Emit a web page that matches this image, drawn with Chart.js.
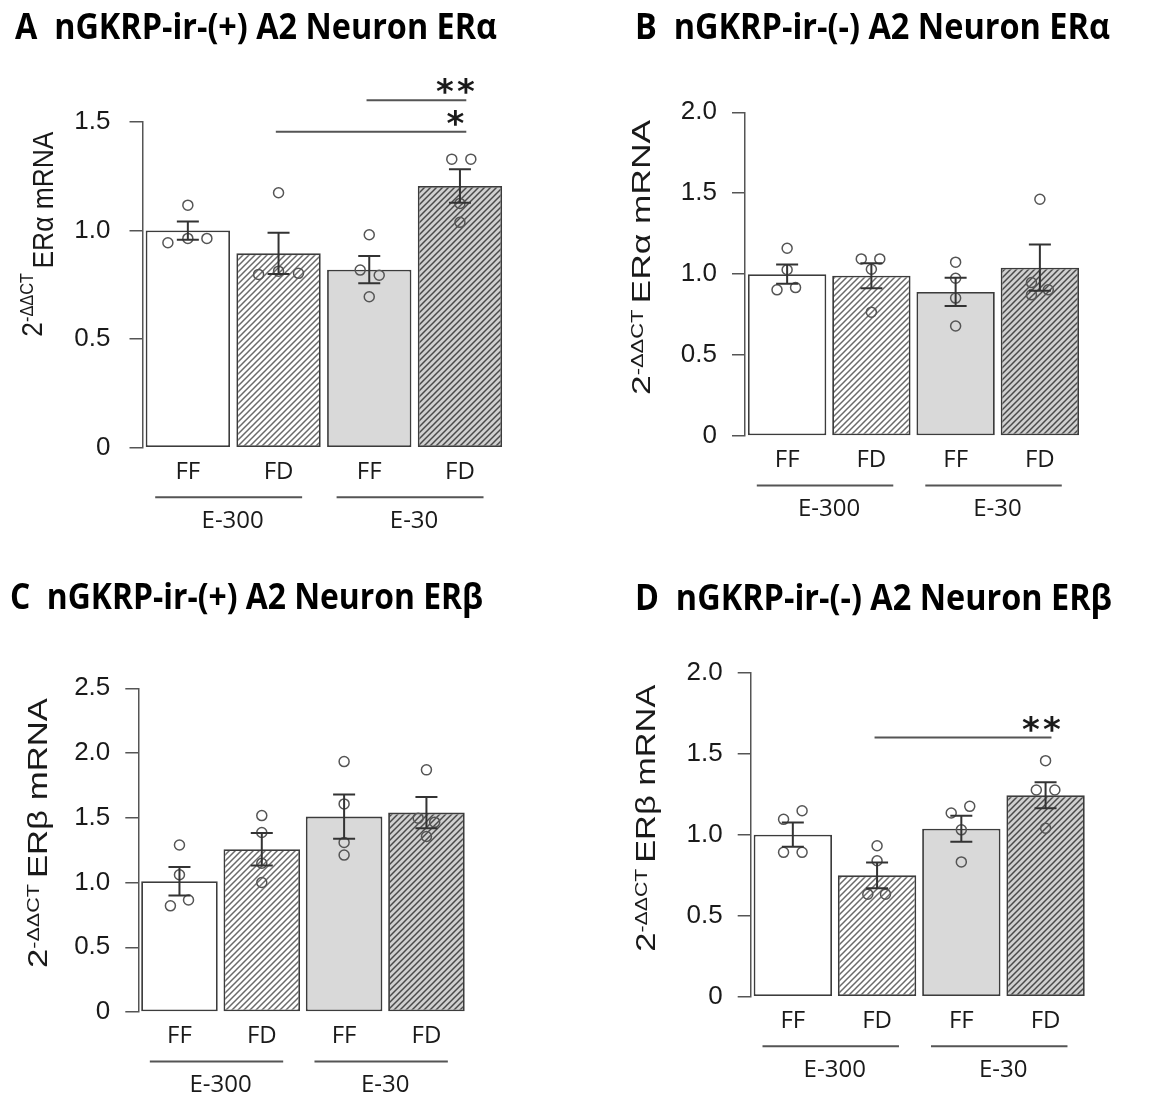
<!DOCTYPE html>
<html>
<head>
<meta charset="utf-8">
<script src="https://cdn.jsdelivr.net/npm/chart.js@4.4.0/dist/chart.umd.min.js"></script>
<style>
  html, body { margin: 0; padding: 0; background: #fff; }
  #wrap { position: relative; width: 1168px; height: 1104px; }
  #wrap canvas { position: absolute; }
</style>
</head>
<body>
<div id="wrap">
  <canvas id="chartA" width="584" height="552" style="left:0;top:0"></canvas>
  <canvas id="chartB" width="584" height="552" style="left:584px;top:0"></canvas>
  <canvas id="chartC" width="584" height="552" style="left:0;top:552px"></canvas>
  <canvas id="chartD" width="584" height="552" style="left:584px;top:552px"></canvas>
</div>
<script>
// shared labels
const categories = ['FF', 'FD', 'FF', 'FD'];
const groupNames = ['E-300', 'E-30'];
const groupSpans = [[0, 1], [2, 3]];
const yPrefix = '2';
const ySup = '-ΔΔCT';

// panel A
const titleA = 'A  nGKRP-ir-(+) A2 Neuron ERα';
const yLabelA = 'ERα mRNA';
const yTicksA = [0, 0.5, 1.0, 1.5];
const meansA = [1.00, 0.895, 0.82, 1.205];
const semA = [0.042, 0.095, 0.063, 0.077];
const pointsA = [[0.944, 1.117, 0.964, 0.964], [0.798, 1.174, 0.813, 0.803], [0.818, 0.981, 0.794, 0.695], [1.329, 1.329, 1.125, 1.038]];
const sigA = [{ from: 2, to: 3, y: 1.60, label: '**' }, { from: 1, to: 3, y: 1.455, label: '*' }];

// panel B
const titleB = 'B  nGKRP-ir-(-) A2 Neuron ERα';
const yLabelB = 'ERα mRNA';
const yTicksB = [0, 0.5, 1.0, 1.5, 2.0];
const meansB = [1.00, 0.99, 0.89, 1.04];
const semB = [0.06, 0.077, 0.087, 0.143];
const pointsB = [[1.16, 1.027, 0.903, 0.917], [1.094, 1.094, 1.03, 0.765], [1.074, 0.975, 0.852, 0.68], [1.463, 0.948, 0.903, 0.872]];
const sigB = [];

// panel C
const titleC = 'C  nGKRP-ir-(+) A2 Neuron ERβ';
const yLabelC = 'ERβ mRNA';
const yTicksC = [0, 0.5, 1.0, 1.5, 2.0, 2.5];
const meansC = [1.01, 1.257, 1.509, 1.54];
const semC = [0.11, 0.125, 0.17, 0.12];
const pointsC = [[1.29, 1.06, 0.82, 0.865], [1.517, 1.386, 1.149, 1.0], [1.934, 1.607, 1.31, 1.212], [1.87, 1.497, 1.466, 1.355]];
const sigC = [];

// panel D
const titleD = 'D  nGKRP-ir-(-) A2 Neuron ERβ';
const yLabelD = 'ERβ mRNA';
const yTicksD = [0, 0.5, 1.0, 1.5, 2.0];
const meansD = [1.00, 0.749, 1.037, 1.243];
const semD = [0.075, 0.08, 0.08, 0.08];
const pointsD = [[1.095, 1.148, 0.891, 0.891], [0.932, 0.839, 0.633, 0.633], [1.134, 1.175, 1.03, 0.832], [1.457, 1.276, 1.276, 1.04]];
const sigD = [{ from: 1, to: 3, y: 1.60, label: '**' }];

// horizontal spread of the dots (in category units), style only
const jitterA = [[-0.22, 0, 0, 0.21], [-0.22, 0, 0, 0.22], [-0.1, 0, 0.11, 0], [-0.09, 0.12, 0, 0]];
const jitterB = [[0, 0, -0.12, 0.1], [-0.12, 0.1, 0, 0], [0, 0, 0, 0], [0, -0.1, 0.1, -0.1]];
const jitterC = [[0, 0, -0.11, 0.11], [0, 0, 0, 0], [0, 0, 0, 0], [0, -0.1, 0.1, 0]];
const jitterD = [[-0.11, 0.11, -0.11, 0.11], [0, 0, -0.11, 0.1], [-0.12, 0.1, 0, 0], [0, -0.11, 0.11, 0]];

const W = 584, H = 552;
const AXIS = '#555';
const INK = '#1a1a1a';

function hatch(bg, line) {
  const c = document.createElement('canvas');
  c.width = 6; c.height = 6;
  const g = c.getContext('2d');
  g.fillStyle = bg;
  g.fillRect(0, 0, 6, 6);
  g.strokeStyle = line;
  g.lineWidth = 1.5;
  g.beginPath();
  g.moveTo(0, 6); g.lineTo(6, 0);
  g.moveTo(-1, 1); g.lineTo(1, -1);
  g.moveTo(5, 7); g.lineTo(7, 5);
  g.stroke();
  return g.createPattern(c, 'repeat');
}

const barFills = ['#ffffff', hatch('#ffffff', '#6a6a6a'), '#d9d9d9', hatch('#d0d0d0', '#4a4a4a')];

// text squeezed to a given width
function fitText(ctx, text, x, y, width) {
  const w = ctx.measureText(text).width;
  ctx.save();
  ctx.translate(x, y);
  ctx.scale(width / w, 1);
  ctx.fillText(text, 0, 0);
  ctx.restore();
}

const decor = {
  id: 'decor',
  afterDraw(chart, args, o) {
    const ctx = chart.ctx;
    const xs = chart.scales.x, ys = chart.scales.y;
    const area = chart.chartArea;

    // error bars
    ctx.save();
    ctx.strokeStyle = '#333';
    ctx.lineWidth = 2;
    o.means.forEach((m, i) => {
      const x = xs.getPixelForValue(i);
      const y1 = ys.getPixelForValue(m + o.sem[i]);
      const y2 = ys.getPixelForValue(m - o.sem[i]);
      ctx.beginPath();
      ctx.moveTo(x, y1); ctx.lineTo(x, y2);
      ctx.moveTo(x - 11, y1); ctx.lineTo(x + 11, y1);
      ctx.moveTo(x - 11, y2); ctx.lineTo(x + 11, y2);
      ctx.stroke();
    });
    ctx.restore();

    // group lines and names
    ctx.save();
    ctx.strokeStyle = AXIS;
    ctx.lineWidth = 2;
    ctx.fillStyle = INK;
    ctx.font = '24px "Open Sans"';
    ctx.textAlign = 'center';
    ctx.textBaseline = 'middle';
    groupSpans.forEach((g, k) => {
      const x1 = xs.getPixelForValue(g[0] - 0.36);
      const x2 = xs.getPixelForValue(g[1] + 0.26);
      const y = area.bottom + 49.6;
      ctx.beginPath();
      ctx.moveTo(x1, y); ctx.lineTo(x2, y);
      ctx.stroke();
      ctx.fillText(groupNames[k], (x1 + x2) / 2 + 4, y + 24);
    });
    ctx.restore();

    // significance lines
    ctx.save();
    ctx.strokeStyle = AXIS;
    ctx.lineWidth = 2;
    ctx.fillStyle = INK;
    ctx.font = 'bold 34px "DejaVu Sans"';
    ctx.textAlign = 'center';
    const mt = ctx.measureText('*');
    const lift = (mt.actualBoundingBoxAscent - mt.actualBoundingBoxDescent) / 2;
    o.sig.forEach(s => {
      const x1 = xs.getPixelForValue(s.from - 0.03);
      const x2 = xs.getPixelForValue(s.to + 0.07);
      const y = ys.getPixelForValue(s.y);
      ctx.beginPath();
      ctx.moveTo(x1, y); ctx.lineTo(x2, y);
      ctx.stroke();
      const cx = xs.getPixelForValue(s.to - 0.05);
      const n = s.label.length;
      for (let j = 0; j < n; j++) {
        ctx.fillText('*', cx + (j - (n - 1) / 2) * 21, y - 14 + lift);
      }
    });
    ctx.restore();

    // panel title
    ctx.save();
    ctx.fillStyle = '#000';
    ctx.font = 'bold 36px "Open Sans"';
    ctx.textBaseline = 'alphabetic';
    fitText(ctx, o.title, o.titlePos.x, o.titlePos.base, o.titlePos.w);
    ctx.restore();

    // y axis title with superscript
    const t = o.yTitle;
    const big = t.cap / 0.716, small = big * 0.62;
    ctx.save();
    ctx.fillStyle = INK;
    ctx.textBaseline = 'alphabetic';
    ctx.font = big + 'px "Liberation Sans"';
    const w2 = ctx.measureText(yPrefix).width;
    const wm = ctx.measureText(o.yLabel).width;
    ctx.font = small + 'px "Liberation Sans"';
    const ws = ctx.measureText(ySup + ' ').width;
    const k = t.len / (w2 + ws + wm);
    ctx.translate(t.x, t.y);
    ctx.rotate(-Math.PI / 2);
    ctx.scale(k, 1);
    ctx.font = big + 'px "Liberation Sans"';
    ctx.fillText(yPrefix, 0, -t.shift);
    ctx.font = small + 'px "Liberation Sans"';
    ctx.fillText(ySup, w2, -t.shift - (t.cap - small * 0.716));
    ctx.font = big + 'px "Liberation Sans"';
    ctx.fillText(o.yLabel, w2 + ws, 0);
    ctx.restore();
  }
};

function makePanel(id, P) {
  const last = P.ticks[P.ticks.length - 1];
  new Chart(document.getElementById(id), {
    type: 'bar',
    data: {
      datasets: [{
        type: 'scatter',
        order: 0,
        data: P.points.flatMap((arr, i) => arr.map((v, j) => ({ x: i + P.jitter[i][j], y: v }))),
        pointRadius: 5,
        pointBorderWidth: 1.5,
        pointBorderColor: '#555',
        pointBackgroundColor: 'rgba(0,0,0,0)',
        showLine: false
      }, {
        type: 'bar',
        order: 1,
        data: P.means.map((v, i) => ({ x: i, y: v })),
        backgroundColor: barFills,
        borderColor: '#3c3c3c',
        borderWidth: 1.8,
        borderSkipped: false,
        barPercentage: 0.93,
        categoryPercentage: 1.0
      }]
    },
    options: {
      responsive: false,
      animation: false,
      events: [],
      layout: { padding: { left: 0, top: P.top, right: W - P.right, bottom: 0 } },
      plugins: {
        legend: { display: false },
        tooltip: { enabled: false },
        decor: {
          means: P.means, sem: P.sem, sig: P.sig,
          title: P.title, titlePos: P.titlePos,
          yLabel: P.yLabel, yTitle: P.yTitle
        }
      },
      scales: {
        x: {
          type: 'linear',
          min: -0.5, max: 3.5,
          offset: false,
          afterBuildTicks: s => { s.ticks = categories.map((c, i) => ({ value: i })); },
          afterFit: s => { s.height = H - P.bottom; },
          grid: { display: false, drawTicks: false, offset: false },
          border: { display: false },
          ticks: {
            padding: 10, color: INK, autoSkip: false, maxRotation: 0,
            font: { family: 'Open Sans', size: 24 },
            callback: v => categories[v]
          }
        },
        y: {
          min: 0, max: last,
          afterBuildTicks: s => { s.ticks = P.ticks.map(v => ({ value: v })); },
          afterFit: s => { s.width = P.left; },
          grid: { drawOnChartArea: false, drawTicks: true, tickLength: 13, color: AXIS, lineWidth: 1.5 },
          border: { display: true, color: AXIS, width: 1.5 },
          ticks: {
            padding: P.tickPad, color: INK,
            font: { family: 'Liberation Sans', size: 26 },
            callback: v => v === 0 ? '0' : v.toFixed(1)
          }
        }
      }
    },
    plugins: [decor]
  });
}

makePanel('chartA', {
  title: titleA, yLabel: yLabelA, ticks: yTicksA, means: meansA, sem: semA, points: pointsA, sig: sigA, jitter: jitterA,
  left: 142.5, right: 505.3, top: 122, bottom: 447.7, tickPad: 19,
  titlePos: { x: 15, base: 39, w: 482 },
  yTitle: { x: 53.3, y: 336.7, len: 205, cap: 21.7, shift: 11.6 }
});
makePanel('chartB', {
  title: titleB, yLabel: yLabelB, ticks: yTicksB, means: meansB, sem: semB, points: pointsB, sig: sigB, jitter: jitterB,
  left: 161, right: 498, top: 112.3, bottom: 436, tickPad: 15,
  titlePos: { x: 51, base: 39, w: 475 },
  yTitle: { x: 66, y: 395, len: 275, cap: 18, shift: 0 }
});
makePanel('chartC', {
  title: titleC, yLabel: yLabelC, ticks: yTicksC, means: meansC, sem: semC, points: pointsC, sig: sigC, jitter: jitterC,
  left: 138.3, right: 467.6, top: 136.3, bottom: 460, tickPad: 15,
  titlePos: { x: 10, base: 57, w: 473 },
  yTitle: { x: 46.7, y: 416, len: 270, cap: 20, shift: 0 }
});
makePanel('chartD', {
  title: titleD, yLabel: yLabelD, ticks: yTicksD, means: meansD, sem: semD, points: pointsD, sig: sigD, jitter: jitterD,
  left: 166.7, right: 503.7, top: 120.7, bottom: 444.7, tickPad: 15,
  titlePos: { x: 51, base: 58, w: 477 },
  yTitle: { x: 71, y: 399.7, len: 267, cap: 20, shift: 0 }
});
</script>
</body>
</html>
